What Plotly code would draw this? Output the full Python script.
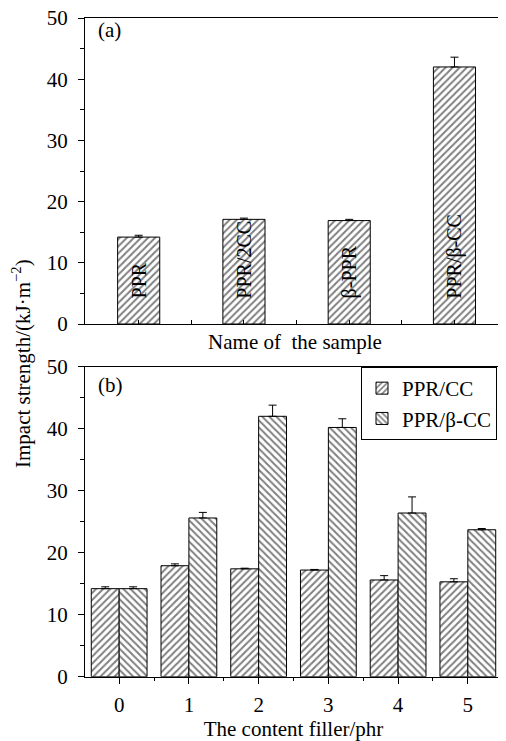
import plotly.graph_objects as go

# ---------------- data ----------------
sample_names = ["PPR", "PPR/2CC", "β-PPR", "PPR/β-CC"]
sample_values = [14.2, 17.1, 16.9, 42.0]
sample_err = [0.3, 0.2, 0.2, 1.6]

filler_content = [0, 1, 2, 3, 4, 5]
ppr_cc_values = [14.2, 17.9, 17.4, 17.2, 15.6, 15.3]
ppr_cc_err = [0.3, 0.3, 0.1, 0.1, 0.7, 0.5]
ppr_bcc_values = [14.2, 25.6, 42.0, 40.2, 26.4, 23.7]
ppr_bcc_err = [0.3, 0.9, 1.8, 1.4, 2.6, 0.2]

series_names = ["PPR/CC", "PPR/β-CC"]
y_title = "Impact strength/(kJ·m<sup>−2</sup>)"
x_title_a = "Name of  the sample"
x_title_b = "The content filler/phr"

FONT = "Liberation Serif"
OFF = 8  # page body margin
W, H = 506 - OFF, 741 - OFF

def px_x(p):
    return (p - OFF) / W

def px_y(p):
    return 1 - (p - OFF) / H

def hatch(shape):
    return dict(shape=shape, size=5, solidity=0.4, fgcolor="black", bgcolor="white")

fig = go.Figure()

sample_x = list(range(len(sample_names)))

fig.add_trace(go.Bar(
    x=sample_x, y=sample_values, width=0.4,
    marker=dict(color="white", line=dict(color="black", width=1), pattern=hatch("/")),
    error_y=dict(type="data", symmetric=False, array=sample_err,
                 arrayminus=[0] * len(sample_err), color="black", thickness=1, width=4),
    showlegend=False, xaxis="x", yaxis="y",
))

for i, name in enumerate(sample_names):
    fig.add_annotation(
        x=sample_x[i], y=3.8, xref="x", yref="y", text=name, textangle=-90,
        showarrow=False, yanchor="bottom", xanchor="center",
        font=dict(family=FONT, size=20, color="black"),
    )

fig.add_trace(go.Bar(
    x=filler_content, y=ppr_cc_values, name=series_names[0],
    marker=dict(color="white", line=dict(color="black", width=1), pattern=hatch("/")),
    error_y=dict(type="data", symmetric=False, array=ppr_cc_err,
                 arrayminus=[0] * len(ppr_cc_err), color="black", thickness=1, width=4),
    xaxis="x2", yaxis="y2",
))
fig.add_trace(go.Bar(
    x=filler_content, y=ppr_bcc_values, name=series_names[1],
    marker=dict(color="white", line=dict(color="black", width=1), pattern=hatch("\\")),
    error_y=dict(type="data", symmetric=False, array=ppr_bcc_err,
                 arrayminus=[0] * len(ppr_bcc_err), color="black", thickness=1, width=4),
    xaxis="x2", yaxis="y2",
))

yaxis_common = dict(
    range=[0, 50], dtick=10, tick0=0, ticks="outside", ticklen=6, tickwidth=1,
    tickcolor="black", showline=True, linecolor="black", linewidth=1, mirror=True,
    showgrid=False, zeroline=False, ticklabelstandoff=6, automargin=False,
    ticklabeloverflow="allow",
    tickfont=dict(family=FONT, size=21, color="black"),
    minor=dict(dtick=5, ticks="outside", ticklen=4, tickcolor="black", showgrid=False),
)

fig.update_layout(
    width=W, height=H,
    margin=dict(l=0, r=0, t=0, b=0, autoexpand=False),
    paper_bgcolor="white", plot_bgcolor="white",
    barmode="group", bargap=0.2, bargroupgap=0,
    font=dict(family=FONT, color="black"),
    xaxis=dict(
        domain=[px_x(85), px_x(505)], anchor="y", range=[-0.51, 3.48],
        tickmode="array", tickvals=[0, 0.5, 1, 1.5, 2, 2.5, 3],
        showticklabels=False, ticks="inside", ticklen=4, tickcolor="black",
        showline=True, linecolor="black", linewidth=1, mirror=True,
        showgrid=False, zeroline=False, automargin=False,
        title=dict(text=x_title_a, font=dict(family=FONT, size=21, color="black"), standoff=10),
    ),
    yaxis=dict(domain=[px_y(324), px_y(18)], anchor="x", **yaxis_common),
    xaxis2=dict(
        domain=[px_x(85), px_x(502)], anchor="y2", range=[-0.49, 5.49],
        tickmode="linear", tick0=0, dtick=1,
        ticks="outside", ticklen=6, tickcolor="black",
        showline=True, linecolor="black", linewidth=1, mirror=True,
        showgrid=False, zeroline=False, ticklabelstandoff=3, automargin=False,
        tickfont=dict(family=FONT, size=21, color="black"),
        minor=dict(dtick=0.5, tick0=0, ticks="outside", ticklen=3, tickcolor="black", showgrid=False),
        title=dict(text=x_title_b, font=dict(family=FONT, size=21, color="black"), standoff=4),
    ),
    yaxis2=dict(domain=[px_y(676.7), px_y(366.7)], anchor="x2", **yaxis_common),
    legend=dict(
        x=px_x(361), y=px_y(367), xanchor="left", yanchor="top",
        bgcolor="white", bordercolor="black", borderwidth=1,
        font=dict(family=FONT, size=21, color="black"),
        tracegroupgap=0, itemwidth=30,
    ),
)

fig.add_annotation(x=px_x(96), y=px_y(30), xref="paper", yref="paper", text="(a)",
                   showarrow=False, xanchor="left", yanchor="middle",
                   font=dict(family=FONT, size=21, color="black"))
fig.add_annotation(x=px_x(96), y=px_y(385), xref="paper", yref="paper", text="(b)",
                   showarrow=False, xanchor="left", yanchor="middle",
                   font=dict(family=FONT, size=21, color="black"))
fig.add_annotation(x=px_x(22), y=px_y(364), xref="paper", yref="paper", text=y_title,
                   textangle=-90, showarrow=False, xanchor="center", yanchor="middle",
                   font=dict(family=FONT, size=21, color="black"))

fig.write_html("out.html")
